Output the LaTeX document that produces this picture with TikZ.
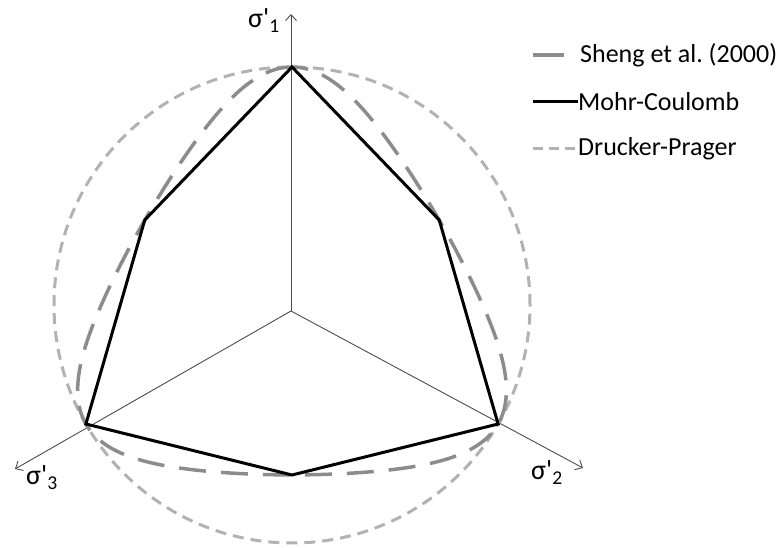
\documentclass[tikz,border=0pt]{standalone}
\usepackage{fontspec}
\setmainfont{Carlito}
\frenchspacing
\usetikzlibrary{arrows.meta, positioning}

\begin{document}
\begin{tikzpicture}[
    x=1pt, y=1pt,
    axis/.style={draw=black!70, line width=0.9pt, -{Straight Barb[length=6pt, width=11pt]}},
    mohr/.style={draw=black, line width=3pt, line join=miter},
    sheng/.style={draw=black!45, line width=3.5pt, dash pattern=on 27pt off 15pt},
    drucker/.style={draw=black!30, line width=3pt, dash pattern=on 11pt off 7pt},
    axislabel/.style={inner sep=0pt, anchor=base west, font=\fontsize{28}{32}\selectfont},
    legendtext/.style={inner sep=0pt, anchor=west, font=\fontsize{26}{30}\selectfont}
]
\useasboundingbox (0,0) rectangle (779,548);

% Centre, radii
\def\R{238}
\def\alp{0.714}
\coordinate (C) at (292,243);
\coordinate (O) at (291,237);

% Compression and tension corners
\path (C) ++(90:\R) coordinate (c1);
\path (C) ++(330:\R) coordinate (c2);
\path (C) ++(210:\R) coordinate (c3);
\path (C) ++(30:170) coordinate (t1);
\path (C) ++(270:170) coordinate (t2);
\path (C) ++(150:170) coordinate (t3);

% Axes
\coordinate (a1) at (291,534);
\coordinate (a2) at (583,80);
\coordinate (a3) at (15,79);
\draw [axis] (O) -- (a1);
\draw [axis] (O) -- (a2);
\draw [axis] (O) -- (a3);

\node (s1) [axislabel] at (248,520) {σ\textquotesingle\textsubscript{1}};
\node (s2) [axislabel] at (531,68) {σ\textquotesingle\textsubscript{2}};
\node (s3) [axislabel] at (26,63) {σ\textquotesingle\textsubscript{3}};

% Surfaces
\draw [drucker] (C) circle [radius=\R];
\draw [sheng, shift={(C)}] plot [domain=90:450, samples=241, smooth]
    (\x:{\R*sqrt(sqrt(2*\alp^4/(1+\alp^4+(1-\alp^4)*sin(3*\x))))});
\draw [mohr] (c1) -- (t1) -- (c2) -- (t2) -- (c3) -- (t3) -- cycle;

% Legend
\node (tsh) [legendtext] at (580,493) {Sheng et al. (2000)};
\node (tmc) [legendtext] at (578,446) {Mohr-Coulomb};
\node (tdp) [legendtext] at (578,399) {Drucker-Prager};
\coordinate (lsh) at (533,493);
\coordinate (lsh2) at (564,493);
\coordinate (lmc) at (533,446);
\coordinate (ldp) at (533,399);
\draw [sheng, solid] (lsh) -- (lsh2);
\draw [mohr] (lmc) -- (tmc.west);
\draw [drucker, dash pattern=on 10pt off 6pt] (ldp) -- (tdp.west);

\end{tikzpicture}
\end{document}
